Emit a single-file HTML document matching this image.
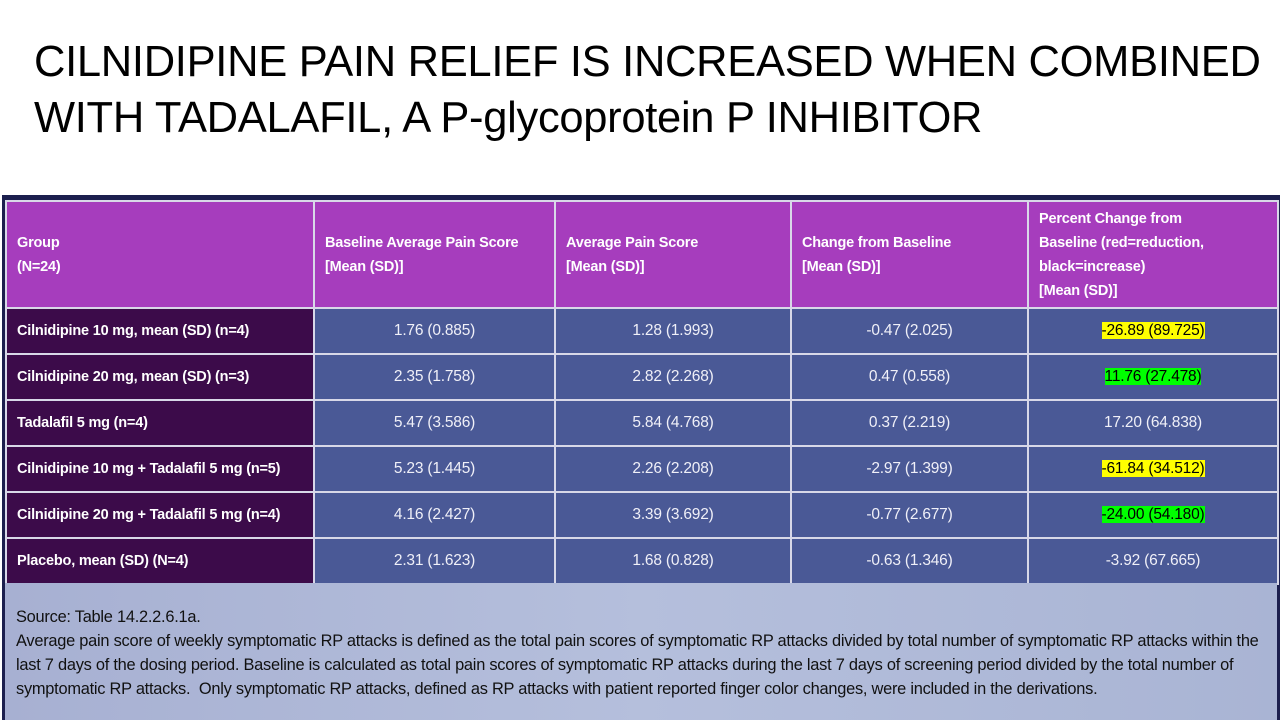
<!DOCTYPE html>
<html><head><meta charset="utf-8">
<style>
body{margin:0;width:1280px;height:720px;background:#fff;position:relative;overflow:hidden;font-family:"Liberation Sans",sans-serif}
.title{position:absolute;left:34px;top:34px;font-size:43.5px;line-height:56px;color:#000;white-space:nowrap;letter-spacing:-0.3px}
.panel{position:absolute;left:2px;top:195px;width:1278px;height:525px;background:#1c1f4e}
.foot{position:absolute;left:5px;top:583px;width:1272px;height:137px;background:linear-gradient(90deg,#a7b0d2,#b5bfdc 50%,#a9b4d4);}
.foot div{position:absolute;left:11px;font-size:16.4px;color:#111;white-space:nowrap;letter-spacing:-0.25px}
table{position:absolute;left:5px;top:200px;border-collapse:collapse;font-size:15.5px;letter-spacing:-0.2px}
td{border:2px solid #d8d8e8;padding:0;color:#f0f0f8}
tr.h td{background:#a63dbd;color:#fff;font-weight:bold;vertical-align:middle;padding-left:10px;height:105px;line-height:24px;font-size:14.5px}
tr.r td{background:#4a5996;text-align:center;height:44px}
tr.r td:first-child{background:#3c0b4a;text-align:left;padding-left:10px;font-weight:bold;font-size:14.5px;color:#fff}
.y{background:#ffff00;color:#000}.g{background:#00ff00;color:#000}
</style></head><body>
<div class="title">CILNIDIPINE PAIN RELIEF IS INCREASED WHEN COMBINED<br>WITH TADALAFIL, A P-glycoprotein P INHIBITOR</div>
<div class="panel"></div>
<table>
<colgroup><col style="width:308px"><col style="width:241px"><col style="width:236px"><col style="width:237px"><col style="width:250px"></colgroup>
<tr class="h"><td>Group<br>(N=24)</td><td>Baseline Average Pain Score<br>[Mean (SD)]</td><td>Average Pain Score<br>[Mean (SD)]</td><td>Change from Baseline<br>[Mean (SD)]</td><td>Percent Change from<br>Baseline (red=reduction,<br>black=increase)<br>[Mean (SD)]</td></tr>
<tr class="r"><td>Cilnidipine 10 mg, mean (SD) (n=4)</td><td>1.76 (0.885)</td><td>1.28 (1.993)</td><td>-0.47 (2.025)</td><td><span class="y">-26.89 (89.725)</span></td></tr>
<tr class="r"><td>Cilnidipine 20 mg, mean (SD) (n=3)</td><td>2.35 (1.758)</td><td>2.82 (2.268)</td><td>0.47 (0.558)</td><td><span class="g">11.76 (27.478)</span></td></tr>
<tr class="r"><td>Tadalafil 5 mg (n=4)</td><td>5.47 (3.586)</td><td>5.84 (4.768)</td><td>0.37 (2.219)</td><td>17.20 (64.838)</td></tr>
<tr class="r"><td>Cilnidipine 10 mg + Tadalafil 5 mg (n=5)</td><td>5.23 (1.445)</td><td>2.26 (2.208)</td><td>-2.97 (1.399)</td><td><span class="y">-61.84 (34.512)</span></td></tr>
<tr class="r"><td>Cilnidipine 20 mg + Tadalafil 5 mg (n=4)</td><td>4.16 (2.427)</td><td>3.39 (3.692)</td><td>-0.77 (2.677)</td><td><span class="g">-24.00 (54.180)</span></td></tr>
<tr class="r"><td>Placebo, mean (SD) (N=4)</td><td>2.31 (1.623)</td><td>1.68 (0.828)</td><td>-0.63 (1.346)</td><td>-3.92 (67.665)</td></tr>
</table>
<div class="foot">
<div style="top:25px">Source: Table 14.2.2.6.1a.</div>
<div style="top:49px">Average pain score of weekly symptomatic RP attacks is defined as the total pain scores of symptomatic RP attacks divided by total number of symptomatic RP attacks within the</div>
<div style="top:73px">last 7 days of the dosing period. Baseline is calculated as total pain scores of symptomatic RP attacks during the last 7 days of screening period divided by the total number of</div>
<div style="top:97px">symptomatic RP attacks.&nbsp; Only symptomatic RP attacks, defined as RP attacks with patient reported finger color changes, were included in the derivations.</div>
</div>
</body></html>
